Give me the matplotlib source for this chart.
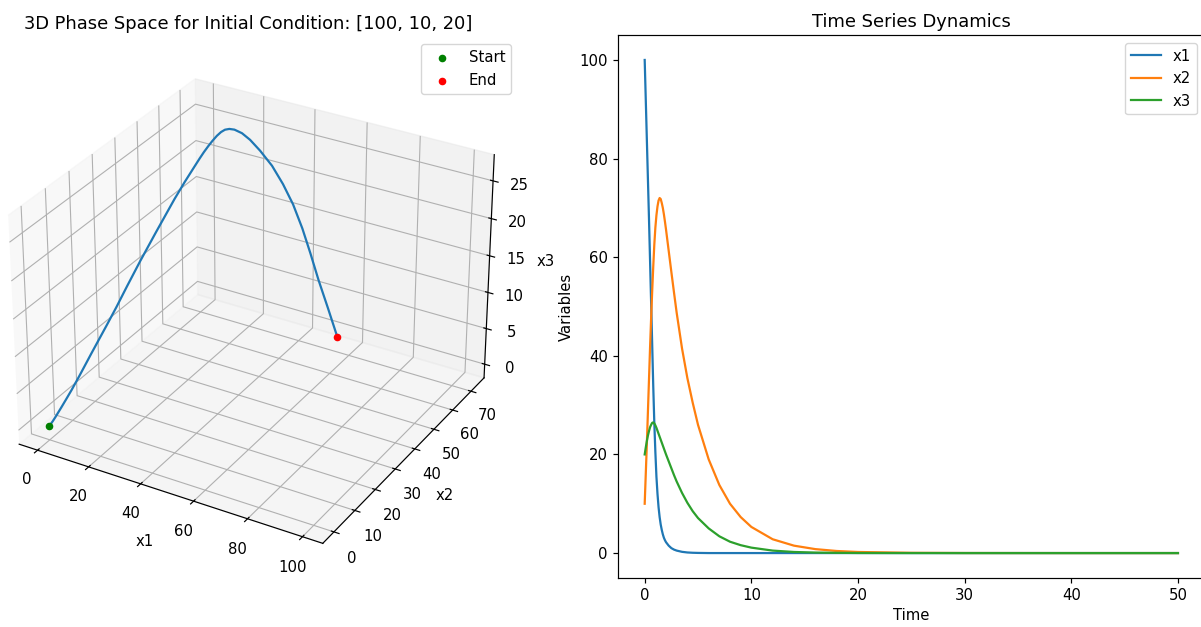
import matplotlib
matplotlib.use("Agg")
import matplotlib.pyplot as plt


# ------------------------------------------- #
#  Data          #
# ------------------------------------------- #
time = [0, 0.1, 0.2, 0.3, 0.4, 0.5, 0.6, 0.7, 0.8, 0.9, 1.0, 1.1, 1.2, 1.3, 1.4, 1.5,
        1.6, 1.7, 1.8, 1.9, 2.0, 2.25, 2.5, 2.75, 3.0, 3.5, 4.0, 4.5, 5.0, 6, 7, 8, 9,
        10, 12, 14, 16, 18, 20, 25, 30, 40, 50]

x1 = [100, 92, 84, 76, 68, 59.5, 51, 42.5, 34, 26.5, 20.5, 15.5, 12, 9.3, 7.3, 5.8,
      4.7, 3.8, 3.1, 2.6, 2.2, 1.5, 1.0, 0.7, 0.5, 0.25, 0.12, 0.06, 0.03, 0, 0, 0, 0,
      0, 0, 0, 0, 0, 0, 0, 0, 0, 0]

x2 = [10, 16, 22, 28.5, 35, 41.5, 47.5, 53, 58, 62.5, 66, 68.5, 70.3, 71.5, 72, 71.8,
      71, 70, 68.7, 67.2, 65.6, 61.3, 57, 52.8, 48.7, 41.5, 35.5, 30.5, 26, 19, 13.8,
      10, 7.3, 5.3, 2.8, 1.5, 0.8, 0.42, 0.22, 0.05, 0.01, 0, 0]

x3 = [20, 21.4, 22.7, 23.8, 24.7, 25.5, 26, 26.4, 26.5, 26.3, 25.9, 25.4, 24.8, 24.2,
      23.6, 23.0, 22.4, 21.8, 21.2, 20.6, 20.0, 18.6, 17.2, 15.8, 14.5, 12.2, 10.2, 8.5,
      7.1, 5.0, 3.4, 2.3, 1.6, 1.1, 0.5, 0.22, 0.1, 0.05, 0.02, 0, 0, 0, 0]

initial_condition = [100, 10, 20]
series_names = ["x1", "x2", "x3"]


# ------------------------------------------- #
#  Style (reference is a slightly upscaled    #
#  default matplotlib render)                 #
# ------------------------------------------- #
plt.rcParams.update({
    "font.size": 10.7,
    "lines.linewidth": 1.6,
    "lines.markersize": 6.4,
    "axes.linewidth": 0.86,
    "xtick.major.size": 3.75,
    "ytick.major.size": 3.75,
    "xtick.major.width": 0.86,
    "ytick.major.width": 0.86,
})


# ------------------------------------------- #
#  Figure                                     #
# ------------------------------------------- #
fig = plt.figure(figsize=(12.01, 6.27), dpi=100)

# 3D phase space
ax3d = fig.add_axes([-0.018, 0.079, 0.45, 0.862], projection="3d")
ax3d.plot(x1, x2, x3, color="C0")
# the reference marks the final state as "Start" and the initial one as "End"
ax3d.scatter(x1[-1], x2[-1], x3[-1], color="green", label="Start", depthshade=False)
ax3d.scatter(x1[0], x2[0], x3[0], color="red", label="End", depthshade=False)
ax3d.set_xlabel("x1")
ax3d.set_ylabel("x2")
ax3d.set_zlabel("x3")
ax3d.set_title(f"3D Phase Space for Initial Condition: {initial_condition}")
ax3d.legend(loc="upper right")

# Time series
ax = fig.add_axes([0.5146, 0.0786, 0.4884, 0.8651])
for values, name in zip([x1, x2, x3], series_names):
    ax.plot(time, values, label=name)
ax.set_xlabel("Time")
ax.set_ylabel("Variables")
ax.set_title("Time Series Dynamics")
ax.legend(loc="upper right")

fig.savefig("out.png", dpi=100)
